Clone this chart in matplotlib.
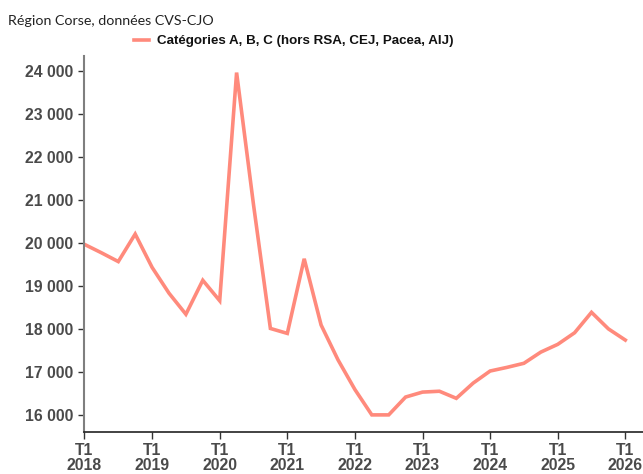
import matplotlib.pyplot as plt

# Demandeurs d'emploi, catégories A, B, C - Corse, trimestriel
trimestres = [f"T{q} {a}" for a in range(2018, 2026) for q in range(1, 5)] + ["T1 2026"]
valeurs = [
    19975, 19780, 19575, 20215,
    19440, 18840, 18350, 19140,
    18665, 23970, 20900, 18020,
    17905, 19640, 18100, 17290,
    16600, 16010, 16010, 16425,
    16540, 16560, 16395, 16750,
    17030, 17115, 17210, 17470,
    17650, 17920, 18395, 18010,
    17750,
]
annees = list(range(2018, 2027))
yticks = list(range(16000, 25000, 1000))

plt.rcParams["font.family"] = ["Liberation Sans", "DejaVu Sans"]

fig = plt.figure(figsize=(6.43, 4.74), dpi=100)
ax = fig.add_axes([0.1314, 0.0886, 0.87, 0.7933])

x = list(range(len(valeurs)))
ax.plot(x, valeurs, color="#ff8a7c", linewidth=2.6, solid_joinstyle="miter",
        label="Catégories A, B, C (hors RSA, CEJ, Pacea, AIJ)")

ax.set_xlim(0, 33.1)
ax.set_ylim(15612, 24356)

ax.set_yticks(yticks)
ax.set_yticklabels([f"{v // 1000} 000" for v in yticks])
ax.set_xticks([4 * i for i in range(len(annees))])
ax.set_xticklabels([f"T1\n{a}" for a in annees], linespacing=1.0)

ax.tick_params(axis="y", length=4, width=1, color="#333333", labelsize=11.3,
               labelcolor="#4a4a4a", pad=4)
ax.tick_params(axis="x", length=5, width=1, color="#333333", labelsize=11.3,
               labelcolor="#4a4a4a", pad=3)
for lab in ax.get_xticklabels() + ax.get_yticklabels():
    lab.set_fontweight("bold")

for s in ["top", "right"]:
    ax.spines[s].set_visible(False)
ax.spines["left"].set_color("#7f7f7f")
ax.spines["left"].set_linewidth(1.5)
ax.spines["bottom"].set_color("#222222")
ax.spines["bottom"].set_linewidth(1.2)

fig.text(0.012, 0.955, "Région Corse, données CVS-CJO", fontsize=10.3,
         family="Lato", color="#222222", va="center")

leg = fig.legend(loc="center", bbox_to_anchor=(0.4565, 0.913), frameon=False,
                 prop={"weight": "bold", "size": 9.6},
                 handlelength=1.1, handletextpad=0.6)
for t in leg.get_texts():
    t.set_color("#111111")

fig.savefig("out.png", dpi=100)
